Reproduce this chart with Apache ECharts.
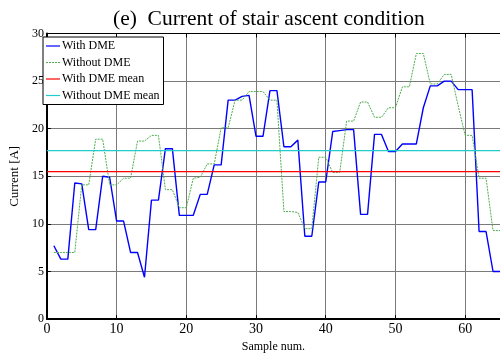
<!DOCTYPE html>
<html>
<head>
<meta charset="utf-8">
<script src="https://cdn.jsdelivr.net/npm/echarts@6/dist/echarts.min.js"></script>
<style>html,body{margin:0;padding:0;background:#fff}#c{width:500px;height:358px}</style>
</head>
<body>
<div id="c"></div>
<script>
const titleText = "(e)  Current of stair ascent condition";
const xName = "Sample num.";
const yName = "Current [A]";
const seriesNames = ["With DME", "Without DME", "With DME mean", "Without DME mean"];
const samples = [1,2,3,4,5,6,7,8,9,10,11,12,13,14,15,16,17,18,19,20,21,22,23,24,25,26,27,28,29,30,31,32,33,34,35,36,37,38,39,40,41,42,43,44,45,46,47,48,49,50,51,52,53,54,55,56,57,58,59,60,61,62,63,64,65];
const withDME = [7.7,6.3,6.3,14.3,14.2,9.4,9.4,15.0,14.9,10.3,
  10.3,7.0,7.0,4.4,12.5,12.5,17.9,17.9,10.9,10.9,
  10.9,13.1,13.1,16.2,16.2,23.0,23.0,23.4,23.5,19.2,
  19.2,24.0,24.0,18.1,18.1,18.8,8.7,8.7,14.4,14.4,
  19.7,19.8,19.9,19.9,11.0,11.0,19.4,19.4,17.6,17.6,
  18.4,18.4,18.4,22.2,24.5,24.5,25.0,25.0,24.1,24.1,
  24.1,9.2,9.2,5.0,5.0];
const withoutDME = [7.0,7.0,7.0,7.0,14.1,14.1,18.9,18.9,14.1,14.1,
  14.8,14.8,18.7,18.7,19.3,19.3,13.6,13.6,11.7,11.7,
  14.8,14.9,16.3,16.3,20.1,20.1,23.0,23.0,23.9,23.9,
  23.9,23.0,23.0,11.3,11.3,11.2,9.5,9.5,17.0,17.0,
  15.4,15.4,20.8,20.8,22.8,22.8,21.2,21.2,22.2,22.2,
  24.4,24.4,27.9,27.9,24.7,24.7,25.7,25.7,22.4,19.3,
  19.3,14.8,14.8,9.3,9.3];
const withMean = 15.5;
const withoutMean = 17.7;
const xTicks = [0,10,20,30,40,50,60];
const yTicks = [0,5,10,15,20,25,30];

const X_MIN = 0, X_MAX = 65;
const serif = "'Liberation Serif','Times New Roman',serif";
const pair = (xs, ys) => xs.map((x, i) => [x, ys[i]]);
const solidIcon = 'path://M0,0h14v1.2h-14z';
const dashIcon = 'path://M0,0h2v1h-2zM3,0h2v1h-2zM6,0h2v1h-2zM9,0h2v1h-2zM12,0h2v1h-2z';

const chart = echarts.init(document.getElementById('c'), null, {renderer: 'canvas'});
chart.setOption({
  animation: false,
  backgroundColor: '#fff',
  title: {
    text: titleText, left: 108, top: 3,
    textStyle: {fontFamily: serif, fontSize: 21.5, fontWeight: 'normal', color: '#000'}
  },
  legend: {
    orient: 'vertical', left: 43, top: 37,
    backgroundColor: '#fff', borderColor: '#000', borderWidth: 1,
    padding: [3, 4, 3, 3], itemGap: 4.5, itemWidth: 14, itemHeight: 1.2,
    symbolKeepAspect: false,
    textStyle: {fontFamily: serif, fontSize: 12, color: '#000', padding: [0,0,0,-3], lineHeight: 12},
    data: [
      {name: seriesNames[0], icon: solidIcon},
      {name: seriesNames[1], icon: dashIcon},
      {name: seriesNames[2], icon: solidIcon},
      {name: seriesNames[3], icon: solidIcon}
    ]
  },
  grid: {left: 37.6, right: -2.4, top: 33.5, bottom: 28.3, containLabel: false},
  xAxis: [{
    type: 'value', min: X_MIN, max: X_MAX, interval: 10,
    name: xName, nameLocation: 'middle', nameGap: 20,
    nameTextStyle: {fontFamily: serif, fontSize: 12, color: '#000'},
    axisLine: {show: true, onZero: false, lineStyle: {color: '#000', width: 2}},
    axisTick: {show: true, inside: true, length: 4, lineStyle: {color: '#000'}},
    axisLabel: {fontFamily: serif, fontSize: 14, color: '#000', margin: 3, showMaxLabel: false,
      formatter: v => xTicks.includes(v) ? String(v) : ''},
    splitLine: {show: true, lineStyle: {color: '#7a7a7a', width: 1}}
  }, {
    type: 'value', position: 'top', min: X_MIN, max: X_MAX, interval: 10,
    axisLine: {show: true, onZero: false, lineStyle: {color: '#000', width: 1}},
    axisTick: {show: true, inside: true, length: 4, lineStyle: {color: '#000'}},
    axisLabel: {show: false}, splitLine: {show: false}
  }],
  yAxis: {
    type: 'value', min: 0, max: 30, interval: 5,
    name: yName, nameLocation: 'middle', nameGap: 22, nameRotate: 90,
    nameTextStyle: {fontFamily: serif, fontSize: 13, color: '#000'},
    axisLine: {show: true, onZero: false, lineStyle: {color: '#000', width: 2}},
    axisTick: {show: true, inside: true, length: 4, lineStyle: {color: '#000'}},
    axisLabel: {fontFamily: serif, fontSize: 12, color: '#000', margin: 3,
      formatter: v => yTicks.includes(v) ? String(v) : ''},
    splitLine: {show: true, lineStyle: {color: '#7a7a7a', width: 1}}
  },
  series: [
    {name: seriesNames[0], type: 'line', data: pair(samples, withDME), symbol: 'none',
      lineStyle: {color: '#0000ff', width: 1.4}, itemStyle: {color: '#0000ff'}},
    {name: seriesNames[1], type: 'line', data: pair(samples, withoutDME), symbol: 'none',
      lineStyle: {color: '#4fae4f', width: 1, type: [2, 1]}, itemStyle: {color: '#4fae4f'}},
    {name: seriesNames[2], type: 'line', data: [[X_MIN, withMean], [X_MAX, withMean]], symbol: 'none',
      lineStyle: {color: '#ff0000', width: 1.2}, itemStyle: {color: '#ff0000'}},
    {name: seriesNames[3], type: 'line', data: [[X_MIN, withoutMean], [X_MAX, withoutMean]], symbol: 'none',
      lineStyle: {color: '#22cccc', width: 1.2}, itemStyle: {color: '#22cccc'}}
  ]
});
</script>
</body>
</html>
